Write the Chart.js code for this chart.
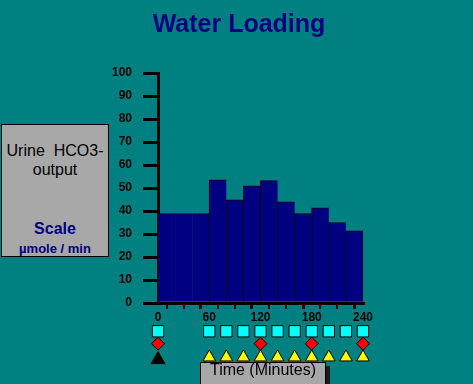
<!DOCTYPE html>
<html>
<head>
<meta charset="utf-8">
<script src="https://cdn.jsdelivr.net/npm/chart.js@4.4.0/dist/chart.umd.min.js"></script>
<style>
html,body{margin:0;padding:0;background:#008080;overflow:hidden;}
#wrap{position:relative;width:473px;height:384px;background:#008080;overflow:hidden;font-family:Arial,"Liberation Sans",sans-serif;}
canvas{position:absolute;left:0;top:0;}
.t{position:absolute;white-space:pre;}
#title{left:0;width:478px;top:11px;text-align:center;font-weight:bold;font-size:25px;line-height:25px;color:#000080;}
#lbox{position:absolute;left:1px;top:124px;width:108px;height:133px;box-sizing:border-box;border:1px solid #000;background:#a8a8a8;}
.lc{left:1px;width:108px;text-align:center;}
#l1{top:142px;font-size:16px;line-height:18px;color:#000;}
#l2{top:160.5px;font-size:16px;line-height:18px;color:#000;}
#l3{top:219.5px;font-size:16px;line-height:18px;font-weight:bold;color:#000080;}
#l4{top:240.5px;font-size:13px;line-height:15px;font-weight:bold;color:#000080;}
#tbox{position:absolute;left:200px;top:362px;width:126px;height:30px;box-sizing:border-box;border:1px solid #000;background:#a8a8a8;box-shadow:4px 4px 0 #1c1c1c;}
#tlab{left:200px;width:126px;text-align:center;top:361px;font-size:16px;line-height:18px;color:#000;}
</style>
</head>
<body>
<div id="wrap">
<canvas id="c" width="473" height="384"></canvas>
<div id="title" class="t">Water Loading</div>
<div id="lbox"></div>
<div id="l1" class="t lc">Urine  HCO3-</div>
<div id="l2" class="t lc">output</div>
<div id="l3" class="t lc">Scale</div>
<div id="l4" class="t lc">µmole / min</div>
<div id="tbox"></div>
<div id="tlab" class="t">Time (Minutes)</div>
</div>
<script>
// ---- data ----
// 20-minute collection periods (start minute of each period)
const periodStarts = [0, 20, 40, 60, 80, 100, 120, 140, 160, 180, 200, 220];
const periodLength = 20;
// urine HCO3- output (µmole/min); the first three periods form one 0-60 min baseline block
const hco3Output = [38.8, 38.8, 38.8, 53.5, 44.8, 50.9, 53.1, 43.9, 38.8, 41.3, 34.9, 31.3];
const baselinePeriods = 3;
const urineSampleTimes = [0, 60, 80, 100, 120, 140, 160, 180, 200, 220, 240];
const bloodSampleTimes = [0, 120, 180, 240];
const waterDoseTimes = [60, 80, 100, 120, 140, 160, 180, 200, 220, 240];
const loadStartTimes = [0];
const timeTickLabels = [0, 60, 120, 180, 240];
const yMin = 0, yMax = 100, yStep = 10;
const tMin = 0, tMax = 240, tStep = 20;

// ---- marker rows below the time axis (in y-scale units) ----
const ROW_SQUARE = -12.3, ROW_DIAMOND = -17.7, ROW_TRI = -23.6, ROW_START = -24.6;
const pts = (times, row) => times.map(t => ({x: t, y: row}));
const barData = periodStarts.map((s, i) => ({x: s + periodLength / 2, y: hco3Output[i]}));
const last = periodStarts.length - 1;

const tickFont = {family: 'Arial, "Liberation Sans", sans-serif', size: 12, weight: 'bold'};

// markers sit below the plot area; Chart.js skips points outside the area, so draw them here
const outsideMarkers = {
  id: 'outsideMarkers',
  afterDatasetsDraw(chart) {
    const ctx = chart.ctx;
    ctx.save();
    chart.getSortedVisibleDatasetMetas().forEach(meta => {
      if (meta.type !== 'scatter') return;
      meta.data.forEach(el => el.draw(ctx));
    });
    ctx.restore();
  }
};

new Chart(document.getElementById('c'), {
  type: 'bar',
  plugins: [outsideMarkers],
  data: {
    datasets: [
      {
        type: 'bar',
        data: barData,
        xAxisID: 'x', yAxisID: 'y',
        backgroundColor: '#000080',
        borderColor: '#000000',
        borderSkipped: false,
        inflateAmount: 0.5,
        borderWidth: (ctx) => {
          const i = ctx.dataIndex;
          if (i === undefined) return 1;
          return {
            left: (i === 0 || i >= baselinePeriods) ? 1 : 0,
            top: 1,
            right: i === last ? 1 : 0,
            bottom: 0
          };
        },
        barPercentage: 1, categoryPercentage: 1
      },
      {
        type: 'scatter', data: pts(urineSampleTimes, ROW_SQUARE),
        xAxisID: 'x', yAxisID: 'y', clip: false,
        pointStyle: 'rect', pointRadius: 8, backgroundColor: '#00ffff', borderColor: '#000', borderWidth: 1
      },
      {
        type: 'scatter', data: pts(bloodSampleTimes, ROW_DIAMOND),
        xAxisID: 'x', yAxisID: 'y', clip: false,
        pointStyle: 'rectRot', pointRadius: 6.5, backgroundColor: '#ff0000', borderColor: '#000', borderWidth: 1
      },
      {
        type: 'scatter', data: pts(waterDoseTimes, ROW_TRI),
        xAxisID: 'x', yAxisID: 'y', clip: false,
        pointStyle: 'triangle', pointRadius: 7.3, backgroundColor: '#ffff00', borderColor: '#000', borderWidth: 1
      },
      {
        type: 'scatter', data: pts(loadStartTimes, ROW_START),
        xAxisID: 'x', yAxisID: 'y', clip: false,
        pointStyle: 'triangle', pointRadius: 8, backgroundColor: '#000000', borderColor: '#000', borderWidth: 1
      }
    ]
  },
  options: {
    responsive: false,
    animation: false,
    devicePixelRatio: 1,
    events: [],
    layout: {padding: {top: 73, right: 110, left: 0, bottom: 0}},
    plugins: {legend: {display: false}, tooltip: {enabled: false}, title: {display: false}},
    scales: {
      x: {
        type: 'linear', position: 'bottom', min: tMin, max: tMax, offset: false,
        afterFit: (s) => { s.height = 81; },
        ticks: {
          stepSize: tStep, autoSkip: false, maxRotation: 0, minRotation: 0, padding: 1, color: '#000', font: tickFont,
          callback: (v) => timeTickLabels.includes(v) ? String(v) : ''
        },
        grid: {
          drawOnChartArea: false, drawTicks: true, tickLength: 6, color: '#000',
          lineWidth: (c) => (c.tick && timeTickLabels.includes(c.tick.value)) ? 3 : 2
        },
        border: {display: true, color: '#000', width: 3}
      },
      y: {
        type: 'linear', position: 'left', min: yMin, max: yMax,
        afterFit: (s) => { s.width = 158; },
        ticks: {stepSize: yStep, padding: 11, color: '#000', font: tickFont},
        grid: {drawOnChartArea: false, drawTicks: true, tickLength: 15, color: '#000', lineWidth: 3},
        border: {display: true, color: '#000', width: 3}
      }
    }
  }
});
</script>
</body>
</html>
